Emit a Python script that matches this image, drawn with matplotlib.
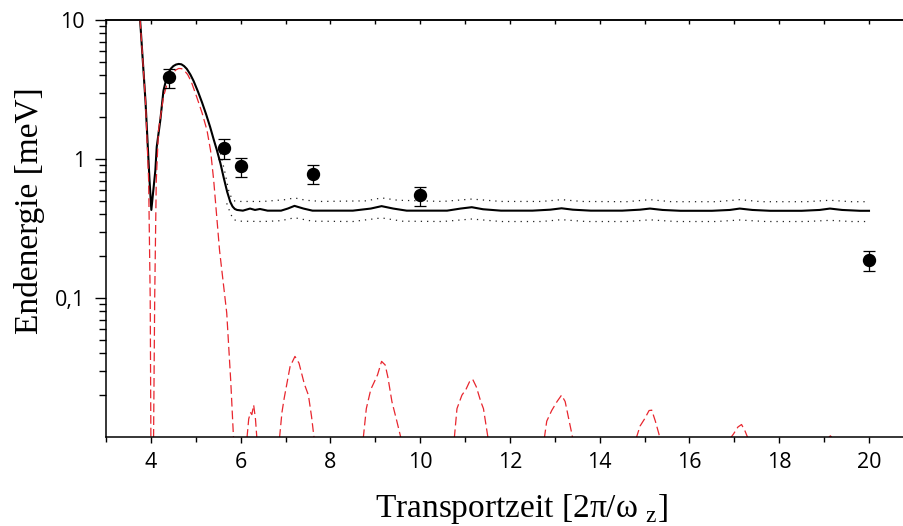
import matplotlib
matplotlib.use("Agg")
import matplotlib.pyplot as plt
from matplotlib.ticker import FixedLocator, FixedFormatter, LogLocator, NullFormatter

plt.rcParams["mathtext.fontset"] = "custom"
plt.rcParams["mathtext.rm"] = "Liberation Serif"

# Measured final energies with error bars
t_meas = [4.4, 5.62, 6.01, 7.61, 10.0, 20.0]
e_meas = [3.86, 1.20, 0.886, 0.785, 0.547, 0.188]
e_meas_hi = [4.44, 1.40, 1.02, 0.91, 0.63, 0.217]
e_meas_lo = [3.22, 0.995, 0.74, 0.66, 0.456, 0.156]

# Simulation including noise (solid line)
t_sim = [3.76, 3.88, 3.97, 4.01, 4.10, 4.13, 4.21, 4.28, 4.36, 4.44, 4.50, 4.56, 4.62,
         4.68, 4.74, 4.80, 4.88, 4.95, 5.05, 5.14, 5.23, 5.32, 5.40, 5.47, 5.55, 5.62,
         5.70, 5.77, 5.82, 5.87, 5.92, 6.05, 6.21, 6.32, 6.43,
         6.60, 6.90, 7.05, 7.20, 7.40, 7.60, 8.00, 8.50, 8.90, 9.14, 9.40, 9.70,
         10.2, 10.6, 10.9, 11.15, 11.4, 11.8, 12.5, 12.9, 13.15, 13.4, 13.8, 14.5,
         14.9, 15.12, 15.4, 15.8, 16.5, 16.9, 17.12, 17.4, 17.8, 18.5, 18.9, 19.13,
         19.4, 19.8, 20.0]
e_sim = [10.0, 2.6, 0.70, 0.43, 0.83, 1.22, 1.9, 3.1, 3.95, 4.45, 4.66, 4.78, 4.83,
         4.80, 4.66, 4.45, 4.05, 3.65, 3.05, 2.55, 2.1, 1.70, 1.38, 1.16, 0.93, 0.74,
         0.58, 0.49, 0.455, 0.437, 0.43, 0.425, 0.44, 0.43, 0.437,
         0.425, 0.425, 0.44, 0.46, 0.44, 0.425, 0.425, 0.425, 0.44, 0.458, 0.44, 0.425,
         0.425, 0.425, 0.44, 0.45, 0.435, 0.425, 0.425, 0.432, 0.442, 0.432, 0.425, 0.425,
         0.432, 0.44, 0.43, 0.424, 0.424, 0.43, 0.44, 0.43, 0.424, 0.424, 0.43, 0.44,
         0.43, 0.424, 0.424]

# Upper and lower bounds of the simulation (dotted lines)
t_band_hi = [5.55, 5.65, 5.75, 5.85, 6.0, 6.5, 7.0, 7.2, 7.45, 7.8, 8.8, 9.14, 9.5,
             10.5, 11.15, 11.8, 12.7, 13.15, 13.6, 14.6, 15.12, 15.6, 16.6, 17.12,
             17.6, 18.6, 19.13, 19.6, 20.0]
e_band_hi = [1.1, 0.8, 0.56, 0.50, 0.495, 0.495, 0.51, 0.525, 0.505, 0.495, 0.50, 0.525, 0.505,
             0.495, 0.515, 0.495, 0.495, 0.51, 0.495, 0.493, 0.51, 0.493, 0.493, 0.51,
             0.493, 0.493, 0.505, 0.493, 0.493]
t_band_lo = [5.69, 5.78, 5.85, 6.0, 6.5, 6.9, 7.2, 7.6, 8.5, 9.14, 9.6, 10.5, 11.15,
             11.8, 12.7, 13.15, 13.7, 14.6, 15.12, 15.7, 16.6, 17.12, 17.7, 18.6, 19.13,
             19.6, 20.0]
e_band_lo = [0.48, 0.40, 0.365, 0.357, 0.355, 0.36, 0.378, 0.357, 0.355, 0.377, 0.357, 0.355, 0.37,
             0.355, 0.355, 0.366, 0.355, 0.355, 0.365, 0.355, 0.355, 0.364, 0.355, 0.355, 0.362,
             0.355, 0.355]

# Ideal transport without noise (red dashed line)
t_ideal = [3.76, 3.88, 3.95, 3.985, 4.00, 4.03, 4.06, 4.085, 4.12, 4.17, 4.28, 4.36, 4.43,
           4.50, 4.56, 4.62, 4.68, 4.74, 4.82, 4.90, 5.02, 5.14, 5.25, 5.33, 5.40, 5.53,
           5.69, 5.78, 5.84, 5.90,
           6.13, 6.18, 6.22, 6.25, 6.29, 6.33, 6.37, 6.60,
           6.84, 6.92, 6.97, 7.10, 7.21, 7.30, 7.42, 7.51, 7.58, 7.65, 8.20,
           8.72, 8.80, 8.90, 8.98, 9.05, 9.14, 9.22, 9.28, 9.37, 9.48, 9.60, 10.2,
           10.75, 10.82, 10.93, 11.02, 11.10, 11.17, 11.25, 11.35, 11.41, 11.47, 11.53, 12.1,
           12.75, 12.82, 12.93, 13.05, 13.15, 13.23, 13.30, 13.38, 13.42, 14.1,
           14.80, 14.90, 15.00, 15.10, 15.16, 15.24, 15.32, 15.36, 16.1,
           16.88, 16.98, 17.08, 17.16, 17.24, 17.32, 18.1,
           19.05, 19.14, 19.22, 20.0]
e_ideal = [10.0, 2.6, 0.70, 0.1, 0.01, 1e-4, 0.01, 0.1, 0.70, 1.61, 2.8, 3.45, 3.9,
           4.2, 4.38, 4.48, 4.47, 4.35, 4.05, 3.6, 2.8, 2.15, 1.61, 1.15, 0.70, 0.22,
           0.078, 0.025, 0.01, 1e-4,
           0.009, 0.0135, 0.015, 0.0145, 0.017, 0.0135, 0.009, 1e-4,
           0.008, 0.015, 0.019, 0.032, 0.038, 0.034, 0.024, 0.020, 0.014, 0.009, 1e-4,
           0.009, 0.016, 0.022, 0.025, 0.028, 0.035, 0.033, 0.027, 0.018, 0.013, 0.009, 1e-4,
           0.009, 0.016, 0.020, 0.022, 0.025, 0.026, 0.023, 0.018, 0.016, 0.012, 0.009, 1e-4,
           0.009, 0.013, 0.0155, 0.018, 0.020, 0.018, 0.014, 0.0105, 0.009, 1e-4,
           0.0095, 0.012, 0.0135, 0.0155, 0.0156, 0.013, 0.0105, 0.009, 1e-4,
           0.0095, 0.0105, 0.0118, 0.0123, 0.011, 0.0095, 1e-4,
           0.0095, 0.0102, 0.0095, 1e-4]

x_major = [4, 6, 8, 10, 12, 14, 16, 18, 20]
x_minor = [3, 5, 7, 9, 11, 13, 15, 17, 19]
y_major = [0.1, 1, 10]
y_labels = ["0,1", "1", "10"]

fig = plt.figure(figsize=(9.04, 5.26), dpi=100)
ax = fig.add_axes([106 / 904, 1 - 437 / 526, 1 - 106 / 904, (437 - 20) / 526])
ax.set_yscale("log")
ax.set_xlim(3, 20.78)
ax.set_ylim(0.01, 10)

ax.plot(t_band_hi, e_band_hi, color="#222222", lw=0.9, linestyle=(0, (1, 4)))
ax.plot(t_band_lo, e_band_lo, color="#222222", lw=0.9, linestyle=(0, (1, 4)))
ax.plot(t_sim, e_sim, color="black", lw=1.5)
ax.plot(t_ideal, e_ideal, color="#e8262e", lw=0.9, dashes=(7, 3.2))

yerr = [[m - lo for m, lo in zip(e_meas, e_meas_lo)],
        [hi - m for m, hi in zip(e_meas, e_meas_hi)]]
ax.errorbar(t_meas, e_meas, yerr=yerr, fmt="o", color="black", ms=8.6,
            elinewidth=0.9, capsize=4.3, capthick=0.9, zorder=5)

# Axes frame and ticks
ax.spines["right"].set_visible(False)
for s in ("left", "bottom", "top"):
    ax.spines[s].set_linewidth(1.1)

ax.xaxis.set_major_locator(FixedLocator(x_major))
ax.xaxis.set_minor_locator(FixedLocator(x_minor))
ax.yaxis.set_major_locator(FixedLocator(y_major))
ax.yaxis.set_major_formatter(FixedFormatter(y_labels))
ax.yaxis.set_minor_locator(LogLocator(base=10, subs=range(2, 10)))
ax.yaxis.set_minor_formatter(NullFormatter())

ax.tick_params(axis="x", which="major", direction="out", length=4.5, width=1.0, pad=6)
ax.tick_params(axis="x", which="minor", direction="out", length=3.8, width=1.0)
ax.tick_params(axis="y", which="major", direction="out", length=8, width=1.0, pad=7)
ax.tick_params(axis="y", which="minor", direction="out", length=5, width=1.0)
for lab in ax.get_xticklabels() + ax.get_yticklabels():
    lab.set_fontfamily("Open Sans")
    lab.set_fontsize(15.5)

top = ax.secondary_xaxis("top")
top.xaxis.set_major_locator(FixedLocator(x_major))
top.xaxis.set_minor_locator(FixedLocator(x_minor))
top.tick_params(which="both", direction="in", length=3, width=1.0, labeltop=False)
top.spines["top"].set_linewidth(1.1)

label_font = {"family": "Liberation Serif", "size": 24}
ax.set_xlabel(r"Transportzeit [2π/ω $_{\mathrm{z}}$]", fontdict=label_font)
ax.set_ylabel("Endenergie [meV]", fontdict=label_font)
ax.xaxis.set_label_coords(0.52, -0.132)
ax.yaxis.set_label_coords(-0.076, 0.544)

fig.savefig("out.png", dpi=100)
